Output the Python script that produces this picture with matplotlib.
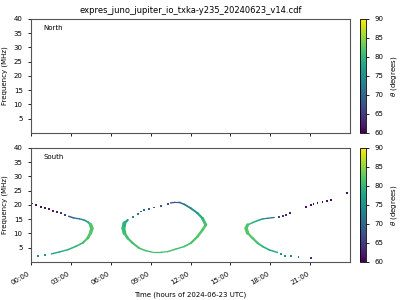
import matplotlib
matplotlib.use('Agg')
import matplotlib.pyplot as plt
import numpy as np
from matplotlib.collections import LineCollection
from matplotlib.cm import ScalarMappable
from matplotlib.colors import Normalize

# data (hours, MHz, theta in degrees)
# south - left arc
arc1_t = [2.83, 3.23, 3.65, 4.03, 4.28, 4.48, 4.58, 4.48, 4.28, 3.9, 3.4, 2.78, 2.15, 1.53]
arc1_f = [16.0, 15.4, 15.1, 14.6, 14.0, 13.1, 11.7, 10.2, 8.4, 6.7, 5.5, 4.3, 3.5, 2.8]
arc1_th = [68, 70, 72, 75, 78, 81, 82, 82, 82, 81, 80, 79, 78, 76]
dots1_t = [0.08, 0.4, 0.73, 1.03, 1.33, 1.65, 1.97, 2.28, 2.53, 1.03, 0.53]
dots1_f = [20.5, 19.9, 19.4, 18.9, 18.5, 18.0, 17.5, 17.1, 16.6, 2.4, 2.0]
dots1_th = [61, 61, 61, 61.5, 62, 62, 63, 64, 65, 75, 74]

# south - middle oval
arc2_t = [7.28, 7.03, 6.95, 7.03, 7.28, 7.65, 8.15, 8.65, 9.15, 9.78, 10.28, 10.9,
          11.53, 12.03, 12.53, 12.9, 13.15, 12.9, 12.53, 12.03, 11.53, 11.15, 10.84, 10.5]
arc2_f = [14.7, 13.6, 11.8, 10.1, 8.3, 6.6, 4.8, 3.9, 3.4, 3.4, 3.6, 4.5,
          5.4, 6.6, 8.9, 11.2, 13.0, 15.3, 17.1, 18.8, 20.2, 20.9, 20.9, 20.7]
arc2_th = [75, 78, 80, 81, 81, 81, 81, 81, 81, 81, 81, 81,
           81, 81, 82, 82, 82, 80, 77, 74, 72, 70, 67, 66]
dots2_t = [10.28, 9.78, 9.28, 8.9, 8.53, 8.28, 8.03, 7.65]
dots2_f = [20.4, 19.6, 19.1, 18.7, 18.2, 17.7, 16.8, 15.9]
dots2_th = [67, 68, 69, 70, 70, 71, 72, 73]

# south - right arc
arc3_t = [18.3, 17.8, 17.43, 17.05, 16.68, 16.3, 16.18, 16.3, 16.68, 17.05, 17.43, 17.93, 18.55]
arc3_f = [15.6, 15.3, 15.1, 14.5, 13.8, 13.0, 11.8, 10.1, 8.3, 6.6, 5.4, 4.2, 3.3]
arc3_th = [70, 73, 75, 78, 80, 81, 82, 82, 82, 81, 80, 79, 77]
dots3_t = [18.68, 18.93, 19.18, 19.48, 20.68, 21.05, 21.25, 21.55, 21.93, 22.3, 22.55, 23.78,
           18.8, 19.13, 19.55, 20.13, 21.05]
dots3_f = [15.9, 16.1, 16.5, 17.1, 19.2, 19.9, 20.2, 20.6, 20.9, 21.3, 21.6, 24.3,
           2.7, 2.2, 2.0, 1.6, 1.3]
dots3_th = [66, 64, 63, 62, 61, 61, 61, 61, 61, 61, 61, 61,
            75, 75, 74, 72, 64]

hour_ticks = [0, 3, 6, 9, 12, 15, 18, 21]
hour_labels = ['00:00', '03:00', '06:00', '09:00', '12:00', '15:00', '18:00', '21:00']
freq_ticks = [5, 10, 15, 20, 25, 30, 35, 40]

cmap = plt.get_cmap('viridis')
norm = Normalize(vmin=60, vmax=90)

fig = plt.figure(figsize=(4, 3), dpi=100)
ax_n = fig.add_axes([0.0775, 0.557, 0.7975, 0.38])
ax_s = fig.add_axes([0.0775, 0.127, 0.7975, 0.38])
cax_n = fig.add_axes([0.9, 0.557, 0.015, 0.38])
cax_s = fig.add_axes([0.9, 0.127, 0.015, 0.38])


def draw_arc(ax, t, f, th):
    pts = np.column_stack([t, f])
    segs = np.stack([pts[:-1], pts[1:]], axis=1)
    # thicker where the arc runs steeply in frequency (many channels per time step)
    dt = np.abs(np.diff(t)) * 13.3
    df = np.abs(np.diff(f)) * 2.85
    widths = 0.9 + 2.8 * (df / (df + dt + 1e-9)) ** 2
    cols = 0.5 * (np.array(th[:-1]) + np.array(th[1:]))
    lc = LineCollection(segs, cmap=cmap, norm=norm, linewidths=widths, capstyle='round')
    lc.set_array(cols)
    ax.add_collection(lc)


for ax, name in [(ax_n, 'North'), (ax_s, 'South')]:
    ax.set_xlim(0, 24)
    ax.set_ylim(0, 40)
    ax.set_xticks(hour_ticks)
    ax.set_yticks(freq_ticks)
    ax.set_ylabel('Frequency (MHz)', fontsize=5)
    ax.tick_params(labelsize=5, length=2.5, width=0.6)
    ax.text(0.04, 0.9, name, transform=ax.transAxes, fontsize=5)
    for sp in ax.spines.values():
        sp.set_linewidth(0.8)
        sp.set_color('#555555')

ax_n.set_xticklabels([])
ax_s.set_xticklabels(hour_labels, rotation=30, ha='right')
ax_s.set_xlabel('Time (hours of 2024-06-23 UTC)', fontsize=5)
ax_n.set_title('expres_juno_jupiter_io_txka-y235_20240623_v14.cdf', fontsize=6, pad=4)

draw_arc(ax_s, arc1_t, arc1_f, arc1_th)
draw_arc(ax_s, arc2_t, arc2_f, arc2_th)
draw_arc(ax_s, arc3_t, arc3_f, arc3_th)
for t, f, th in [(dots1_t, dots1_f, dots1_th), (dots2_t, dots2_f, dots2_th), (dots3_t, dots3_f, dots3_th)]:
    ax_s.scatter(t, f, c=th, cmap=cmap, norm=norm, marker='s', s=1.8, linewidths=0)

for cax in [cax_n, cax_s]:
    cb = fig.colorbar(ScalarMappable(norm=norm, cmap=cmap), cax=cax)
    cb.set_ticks([60, 65, 70, 75, 80, 85, 90])
    cb.ax.tick_params(labelsize=5, length=2.5, width=0.6)
    cb.set_label(r'$\theta$ (degrees)', fontsize=5)
    cb.outline.set_linewidth(0.6)

fig.savefig('out.png', dpi=100)
